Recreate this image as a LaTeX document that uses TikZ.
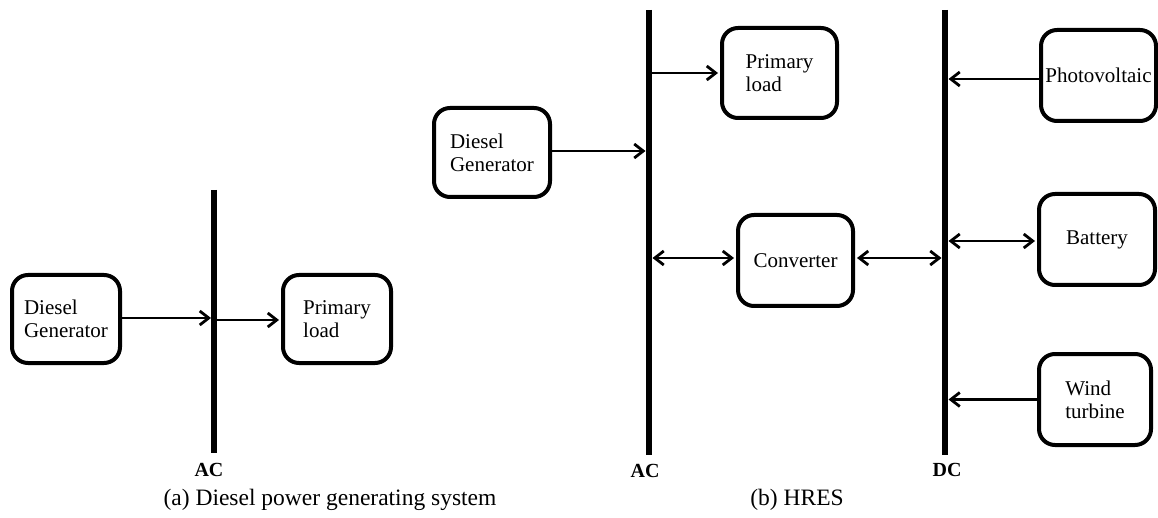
\documentclass[tikz,border=0pt]{standalone}
\usepackage{fontspec}
\setmainfont{Liberation Serif}
\usetikzlibrary{arrows.meta}
\begin{document}
\begin{tikzpicture}[x=1pt,y=-1pt,
 blk/.style={draw, line width=4pt, rounded corners=16pt, align=left, font=\fontsize{21}{23}\selectfont, inner sep=0pt},
 bus/.style={line width=6pt},
 tipb/.tip={Straight Barb[length=9pt,width=14pt,line width=2.8pt]},
 arr/.style={line width=2.2pt, -tipb},
 darr/.style={line width=2.2pt, tipb-tipb},
 lbl/.style={font=\fontsize{20}{22}\selectfont\bfseries},
 captxt/.style={font=\fontsize{23.5}{26}\selectfont}]
\useasboundingbox (0,0) rectangle (1158,518);

% ---------- (a) ----------
\node[blk, minimum width=108pt, minimum height=88pt] (dgA) at (66,319) {Diesel\\Generator};
\node[blk, minimum width=108pt, minimum height=88pt] (plA) at (337,319) {Primary\\load};
\coordinate (busAt) at (214,190);
\coordinate (busAb) at (214,453);
\draw[bus] (busAt) -- (busAb);
\node[lbl] (acA) at (209,470) {AC};
\node[captxt] (capA) at (330,500) {(a) Diesel power generating system};
\draw[arr, shorten >=3pt] ([yshift=1pt]dgA.east) -- ([yshift=1pt]dgA.east -| busAt);
\draw[arr, shorten <=3pt, shorten >=2pt] ([yshift=-1pt]plA.west -| busAt) -- ([yshift=-1pt]plA.west);

% ---------- (b) ----------
\coordinate (acBt) at (649,10);
\coordinate (acBb) at (649,455);
\coordinate (dcBt) at (945,10);
\coordinate (dcBb) at (945,455);
\draw[bus] (acBt) -- (acBb);
\draw[bus] (dcBt) -- (dcBb);
\node[lbl] (acB) at (645,471) {AC};
\node[lbl] (dcB) at (947,470) {DC};
\node[captxt] (capB) at (797,500) {(b) HRES};

\node[blk, minimum width=116pt, minimum height=89pt] (dgB) at (492,152.5) {Diesel\\Generator};
\node[blk, minimum width=115pt, minimum height=90pt] (plB) at (779.5,73) {Primary\\load};
\node[blk, minimum width=115pt, minimum height=91pt] (conv) at (795.5,260.5) {Converter};
\node[blk, minimum width=115pt, minimum height=91pt] (pv) at (1098.5,75.5) {Photovoltaic};
\node[blk, minimum width=116pt, minimum height=91pt] (bat) at (1097,239.5) {Battery};
\node[blk, minimum width=112pt, minimum height=91pt] (wind) at (1095,399.5) {Wind\\turbine};

\draw[arr, shorten >=3.5pt] ([yshift=1.5pt]dgB.east) -- ([yshift=1.5pt]dgB.east -| acBt);
\draw[arr, shorten <=3pt, shorten >=2pt] (plB.west -| acBt) -- (plB.west);
\draw[darr, shorten <=3.5pt, shorten >=2pt] ([yshift=2.5pt]conv.west -| acBt) -- ([yshift=2.5pt]conv.west);
\draw[darr, shorten <=2pt, shorten >=3.5pt] ([yshift=2.5pt]conv.east) -- ([yshift=2.5pt]conv.east -| dcBt);
\draw[arr, shorten >=3.5pt] ([yshift=-3.5pt]pv.west) -- ([yshift=-3.5pt]pv.west -| dcBt);
\draw[darr, shorten <=3.5pt, shorten >=2pt] ([yshift=-1.5pt]bat.west -| dcBt) -- ([yshift=-1.5pt]bat.west);
\draw[arr, shorten >=3.5pt] (wind.west) -- (wind.west -| dcBt);
\end{tikzpicture}
\end{document}
